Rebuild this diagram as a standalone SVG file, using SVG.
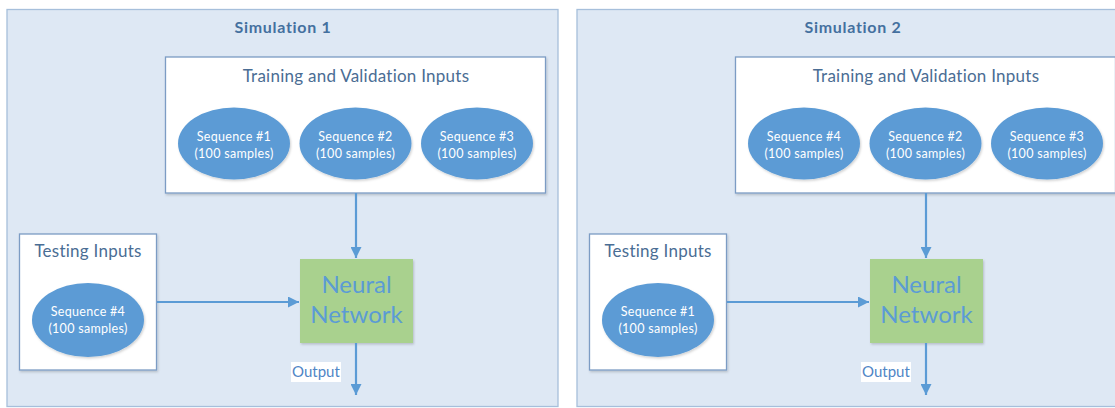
<svg xmlns="http://www.w3.org/2000/svg" width="1115" height="408" viewBox="0 0 1115 408">
<style>
.panel{fill:#dee8f4;stroke:#a6bfdb;stroke-width:1.3}
.box{fill:#ffffff;stroke:#7b9cc4;stroke-width:1.3;filter:url(#sh)}
.ell{fill:#5b9bd5;filter:url(#sh)}
.nn{fill:#a9d18e;filter:url(#sh)}
.title{font-family:Lato,"Liberation Sans",sans-serif;font-weight:bold;font-size:16px;letter-spacing:0.7px;fill:#44709f;text-anchor:middle}
.hdr{font-family:Lato,"Liberation Sans",sans-serif;font-size:17px;letter-spacing:0.25px;fill:#4a6d94;text-anchor:middle}
.seq{font-family:Lato,"Liberation Sans",sans-serif;font-size:12.5px;letter-spacing:0.3px;fill:#ffffff;text-anchor:middle}
.nnt{font-family:Lato,"Liberation Sans",sans-serif;font-size:24px;fill:#5b9bd5;text-anchor:middle}
.out{font-family:Lato,"Liberation Sans",sans-serif;font-size:15px;fill:#4f86c6}
.con{stroke:#5b9bd5;stroke-width:2.2;fill:none;marker-end:url(#ah)}
</style>
<defs>
<filter id="sh" x="-10%" y="-10%" width="130%" height="130%">
<feDropShadow dx="1" dy="1.5" stdDeviation="1.2" flood-color="#000000" flood-opacity="0.18"/>
</filter>
<marker id="ah" viewBox="0 0 10 10" refX="10" refY="5" markerWidth="5" markerHeight="5" orient="auto" markerUnits="strokeWidth">
<path d="M0,0 L10,5 L0,10 z" fill="#5b9bd5"/>
</marker>
</defs>

<g id="sim1">
<rect class="panel" x="7" y="9.5" width="551" height="397"/>
<text class="title" x="283" y="33">Simulation 1</text>
</g>
<g id="sim2">
<rect class="panel" x="577" y="9.5" width="551" height="397"/>
<text class="title" x="853" y="33">Simulation 2</text>
</g>

<g id="train1">
<rect class="box" x="165.5" y="57" width="380" height="136"/>
<text class="hdr" x="356" y="82">Training and Validation Inputs</text>
</g>
<g id="seq1a">
<ellipse class="ell" cx="234" cy="143.5" rx="56" ry="36"/>
<text class="seq" x="234" y="141">Sequence #1</text>
<text class="seq" x="234" y="158">(100 samples)</text>
</g>
<g id="seq2a">
<ellipse class="ell" cx="355.5" cy="143.5" rx="56" ry="36"/>
<text class="seq" x="355.5" y="141">Sequence #2</text>
<text class="seq" x="355.5" y="158">(100 samples)</text>
</g>
<g id="seq3a">
<ellipse class="ell" cx="477" cy="143.5" rx="56" ry="36"/>
<text class="seq" x="477" y="141">Sequence #3</text>
<text class="seq" x="477" y="158">(100 samples)</text>
</g>
<g id="test1">
<rect class="box" x="19.5" y="234" width="137" height="136"/>
<text class="hdr" x="88" y="257">Testing Inputs</text>
</g>
<g id="seq4a">
<ellipse class="ell" cx="88" cy="320" rx="56" ry="37"/>
<text class="seq" x="88" y="316">Sequence #4</text>
<text class="seq" x="88" y="333">(100 samples)</text>
</g>
<g id="nn1">
<rect class="nn" x="300" y="259" width="113" height="84"/>
<text class="nnt" x="356.5" y="293">Neural</text>
<text class="nnt" x="356.5" y="323">Network</text>
</g>

<g id="train2">
<rect class="box" x="735.5" y="57" width="380" height="136"/>
<text class="hdr" x="926" y="82">Training and Validation Inputs</text>
</g>
<g id="seq4b">
<ellipse class="ell" cx="804" cy="143.5" rx="56" ry="36"/>
<text class="seq" x="804" y="141">Sequence #4</text>
<text class="seq" x="804" y="158">(100 samples)</text>
</g>
<g id="seq2b">
<ellipse class="ell" cx="925.5" cy="143.5" rx="56" ry="36"/>
<text class="seq" x="925.5" y="141">Sequence #2</text>
<text class="seq" x="925.5" y="158">(100 samples)</text>
</g>
<g id="seq3b">
<ellipse class="ell" cx="1047" cy="143.5" rx="56" ry="36"/>
<text class="seq" x="1047" y="141">Sequence #3</text>
<text class="seq" x="1047" y="158">(100 samples)</text>
</g>
<g id="test2">
<rect class="box" x="589.5" y="234" width="137" height="136"/>
<text class="hdr" x="658" y="257">Testing Inputs</text>
</g>
<g id="seq1b">
<ellipse class="ell" cx="658" cy="320" rx="56" ry="37"/>
<text class="seq" x="658" y="316">Sequence #1</text>
<text class="seq" x="658" y="333">(100 samples)</text>
</g>
<g id="nn2">
<rect class="nn" x="870" y="259" width="113" height="84"/>
<text class="nnt" x="926.5" y="293">Neural</text>
<text class="nnt" x="926.5" y="323">Network</text>
</g>

<g id="connectors">
<line class="con" x1="356" y1="193" x2="356" y2="258"/>
<line class="con" x1="157" y1="302" x2="299" y2="302"/>
<line class="con" x1="356" y1="343" x2="356" y2="395"/>
<line class="con" x1="926" y1="193" x2="926" y2="258"/>
<line class="con" x1="727" y1="302" x2="869" y2="302"/>
<line class="con" x1="926" y1="343" x2="926" y2="395"/>
<rect x="291" y="362" width="50" height="20" fill="#ffffff"/>
<text class="out" x="292" y="377">Output</text>
<rect x="861" y="362" width="50" height="20" fill="#ffffff"/>
<text class="out" x="862" y="377">Output</text>
</g>
</svg>
